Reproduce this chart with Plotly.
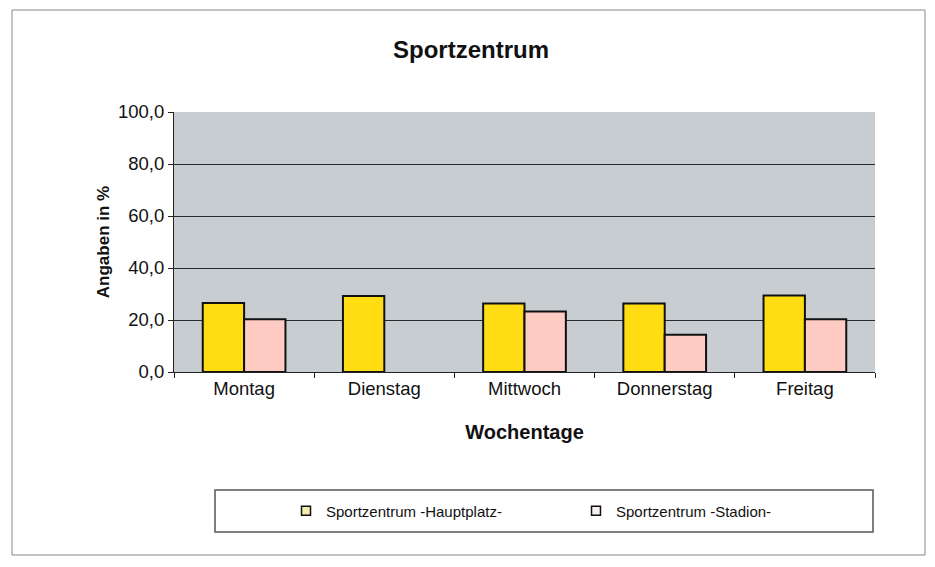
import plotly.graph_objects as go

days = ["Montag", "Dienstag", "Mittwoch", "Donnerstag", "Freitag"]
hauptplatz = [26.5, 29.2, 26.3, 26.3, 29.4]
stadion = [20.3, None, 23.3, 14.3, 20.3]
series_names = ["Sportzentrum -Hauptplatz-", "Sportzentrum -Stadion-"]
y_ticks = [0, 20, 40, 60, 80, 100]

# page offset of the figure (body margin)
OFF = 8
W, H = 935 - OFF, 567 - OFF
L, T = 174 - OFF, 112 - OFF
pw, ph = 701, 260
R, B = W - L - pw, H - T - ph

def px_x(p):
    return (p - OFF - L) / pw

def px_y(p):
    return (T + ph - (p - OFF)) / ph

YELLOW = "#FFDD12"
PINK = "#FFCBC3"
EDGE = "#111111"

fig = go.Figure()
fig.add_trace(go.Bar(x=days, y=hauptplatz, name=series_names[0], showlegend=False,
                     marker=dict(color=YELLOW, line=dict(color=EDGE, width=2))))
fig.add_trace(go.Bar(x=days, y=stadion, name=series_names[1], showlegend=False,
                     marker=dict(color=PINK, line=dict(color=EDGE, width=2))))
# legend entries with small square symbols
fig.add_trace(go.Scatter(x=[None], y=[None], mode="markers", name=series_names[0],
                         marker=dict(symbol="square", size=9, color="#F4EDB0",
                                     line=dict(color=EDGE, width=1.5))))
fig.add_trace(go.Scatter(x=[None], y=[None], mode="markers", name=series_names[1],
                         marker=dict(symbol="square", size=9, color="#F6F0EE",
                                     line=dict(color=EDGE, width=1.5))))

font = "Liberation Sans, Arial, sans-serif"
fig.update_layout(
    width=W, height=H,
    margin=dict(l=L, r=R, t=T, b=B, pad=0),
    paper_bgcolor="white",
    plot_bgcolor="#C8CDD2",
    separators=",.",
    font=dict(family=font, size=18, color="#111"),
    barmode="group", bargap=0.41, bargroupgap=0.0,
    title=dict(text="<b>Sportzentrum</b>", x=(471 - OFF) / W, xref="container", xanchor="center",
               y=1 - (50 - OFF) / H, yanchor="middle", font=dict(size=24, family=font, color="#111")),
    xaxis=dict(title=dict(text="<b>Wochentage</b>", standoff=26, font=dict(size=20)),
               showline=True, linecolor="#222", linewidth=1, ticks="outside",
               tickson="boundaries", ticklen=5, tickcolor="#222", showgrid=False,
               tickfont=dict(size=18.5), range=[-0.5, 4.5]),
    yaxis=dict(title=dict(text="<b>Angaben in %</b>", standoff=4, font=dict(size=17)),
               range=[0, 100], tickvals=y_ticks, tickformat=".1f",
               showline=True, linecolor="#222", linewidth=1, ticks="outside",
               ticklen=5, tickcolor="#222", showgrid=True, gridcolor="#2a2a2a",
               gridwidth=1, zeroline=False, tickfont=dict(size=18.5)),
    legend=dict(orientation="h", x=px_x(286), xanchor="left", y=px_y(511), yanchor="middle",
                font=dict(size=15, family=font), entrywidth=245, entrywidthmode="pixels",
                itemwidth=30, bgcolor="rgba(0,0,0,0)", traceorder="normal"),
    shapes=[
        dict(type="rect", xref="paper", yref="paper", x0=px_x(12), x1=px_x(925),
             y0=px_y(555), y1=px_y(10), line=dict(color="#888", width=1), layer="below"),
        dict(type="rect", xref="paper", yref="paper", x0=px_x(215), x1=px_x(873),
             y0=px_y(532), y1=px_y(490), line=dict(color="#555", width=1.5), layer="below"),
    ],
)
fig.write_html("out.html")
